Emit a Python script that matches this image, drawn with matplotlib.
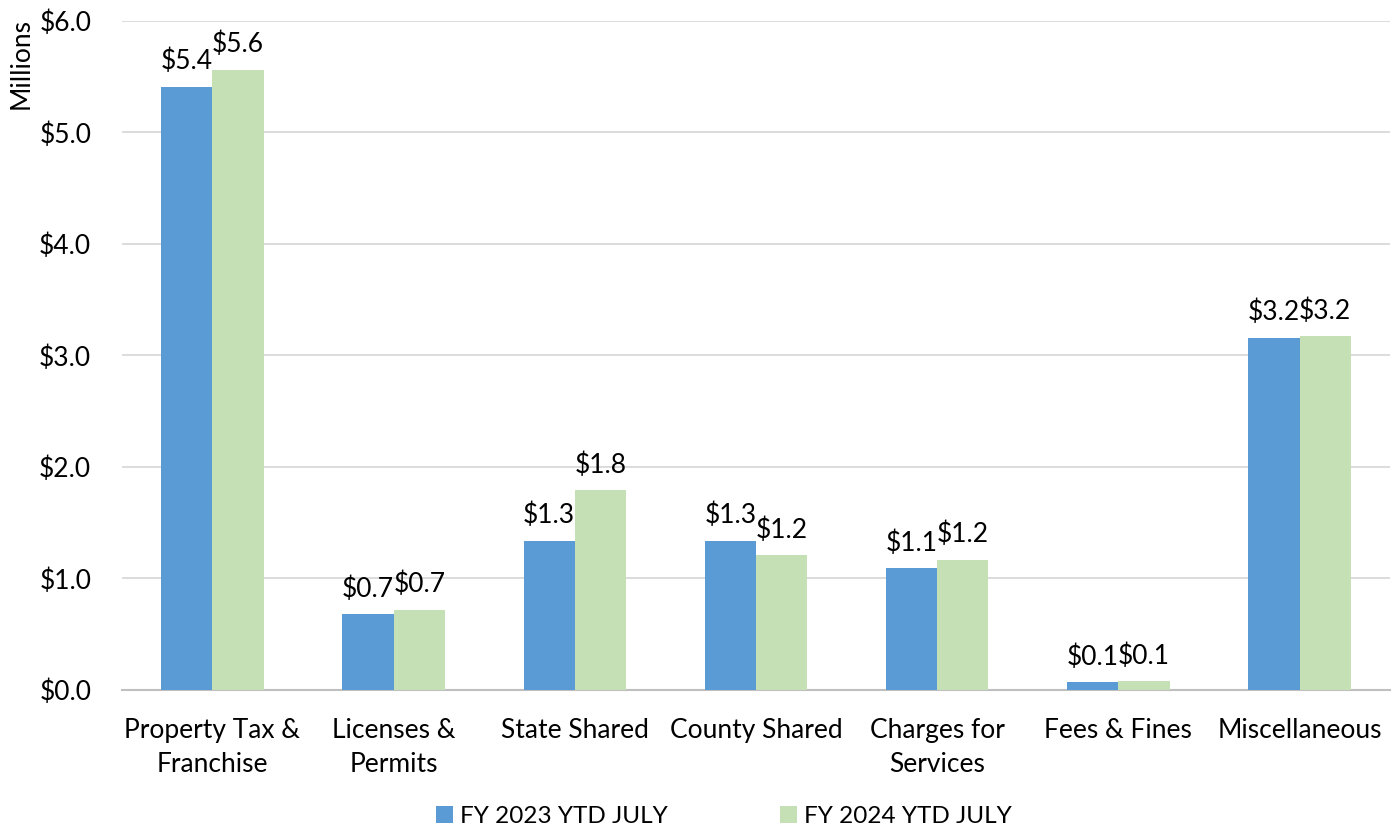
import numpy as np
import matplotlib.pyplot as plt

plt.rcParams["font.family"] = ["Lato", "DejaVu Sans"]

categories = ["Property Tax &\nFranchise", "Licenses &\nPermits", "State Shared",
              "County Shared", "Charges for\nServices", "Fees & Fines", "Miscellaneous"]
fy2023 = [5.41, 0.68, 1.34, 1.34, 1.09, 0.07, 3.16]
fy2024 = [5.56, 0.72, 1.79, 1.21, 1.17, 0.08, 3.17]
series_names = ["FY 2023 YTD JULY", "FY 2024 YTD JULY"]
yticks = [0, 1, 2, 3, 4, 5, 6]

fs = 19
fig = plt.figure(figsize=(14, 8.27), dpi=100)
ax = fig.add_axes([0.087, 0.1657, 0.906, 0.809])

x = np.arange(len(categories))
w = 0.283
b1 = ax.bar(x - w / 2, fy2023, w, color="#5B9BD5", label=series_names[0], zorder=3)
b2 = ax.bar(x + w / 2, fy2024, w, color="#C5E0B4", label=series_names[1], zorder=3)
for bars in (b1, b2):
    for r in bars:
        h = r.get_height()
        ax.annotate(f"${h:.1f}", (r.get_x() + r.get_width() / 2, h),
                    xytext=(0, 9), textcoords="offset points",
                    ha="center", va="bottom", fontsize=fs)

ax.set_xlim(-0.5, len(categories) - 0.5)
ax.set_ylim(0, 6)
ax.set_yticks(yticks)
ax.set_yticklabels([f"${v:.1f}" for v in yticks], fontsize=fs)
ax.set_xticks(x)
ax.set_xticklabels(categories, fontsize=fs, linespacing=1.45)
ax.tick_params(length=0)
ax.tick_params(axis="y", pad=22)
ax.tick_params(axis="x", pad=20)
ax.grid(axis="y", color="#D9D9D9", linewidth=1.3, zorder=0)
for s in ("top", "right", "left"):
    ax.spines[s].set_visible(False)
ax.spines["bottom"].set_color("#BFBFBF")
ax.spines["bottom"].set_linewidth(1.5)

fig.text(0.006, 0.978, "Millions", rotation=90, ha="left", va="top", fontsize=fs)

fig.legend(handles=[b1, b2], labels=series_names, loc="lower center",
           bbox_to_anchor=(0.517, -0.026), ncol=2, frameon=False, fontsize=17.5,
           handlelength=0.7, handleheight=0.7, handletextpad=0.3, columnspacing=4.6)

fig.savefig("out.png", dpi=100)
